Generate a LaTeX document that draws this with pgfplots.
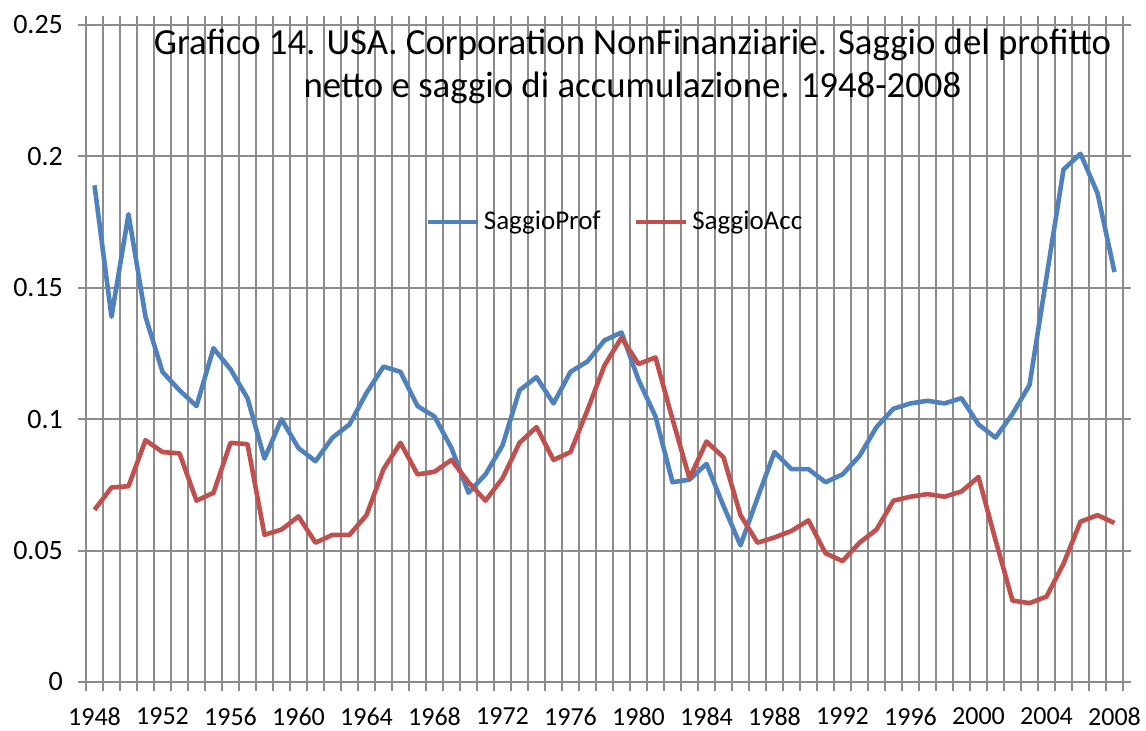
\documentclass[border=0pt]{standalone}
\usepackage{pgfplots}
\usepackage{fontspec}
\setmainfont{Carlito}
\pgfplotsset{compat=1.18}
\definecolor{ProfBlue}{HTML}{4F81BD}
\definecolor{AccRed}{HTML}{C0504D}
\definecolor{GridGray}{HTML}{8C8C8C}

\pgfplotstableread{
year prof acc
1948 0.189 0.0655
1949 0.139 0.074
1950 0.178 0.0745
1951 0.139 0.092
1952 0.118 0.0875
1953 0.111 0.087
1954 0.105 0.069
1955 0.127 0.072
1956 0.119 0.091
1957 0.108 0.0905
1958 0.085 0.056
1959 0.100 0.058
1960 0.089 0.063
1961 0.084 0.053
1962 0.093 0.056
1963 0.098 0.056
1964 0.110 0.0635
1965 0.120 0.081
1966 0.118 0.091
1967 0.105 0.079
1968 0.101 0.080
1969 0.089 0.0845
1970 0.072 0.076
1971 0.079 0.069
1972 0.090 0.0775
1973 0.111 0.091
1974 0.116 0.097
1975 0.106 0.0845
1976 0.118 0.0875
1977 0.122 0.1035
1978 0.130 0.1205
1979 0.133 0.131
1980 0.115 0.121
1981 0.101 0.1235
1982 0.076 0.100
1983 0.077 0.0775
1984 0.083 0.0915
1985 0.067 0.0855
1986 0.052 0.0635
1987 0.070 0.053
1988 0.0875 0.055
1989 0.081 0.0575
1990 0.081 0.0615
1991 0.076 0.049
1992 0.079 0.046
1993 0.086 0.053
1994 0.097 0.058
1995 0.104 0.069
1996 0.106 0.0705
1997 0.107 0.0715
1998 0.106 0.0705
1999 0.108 0.0725
2000 0.098 0.078
2001 0.093 0.054
2002 0.102 0.031
2003 0.113 0.030
2004 0.154 0.0325
2005 0.195 0.045
2006 0.201 0.061
2007 0.186 0.0635
2008 0.156 0.0605
}\saggi

\begin{document}
\begin{tikzpicture}
\begin{axis}[
  at={(0,0)}, anchor=south west,
  scale only axis,
  width=518.5pt, height=328.5pt,
  xmin=1947.5, xmax=2008.5,
  ymin=0, ymax=0.25,
  axis line style={GridGray, line width=1pt},
  xtick={1948,1952,...,2008},
  minor xtick={1947.5,1948.5,...,2008.5},
  major x tick style={draw=none},
  minor x tick style={GridGray, line width=1pt},
  minor tick length=4.5pt,
  xminorgrids=true,
  minor grid style={GridGray, line width=1pt},
  ytick={0,0.05,...,0.25},
  ymajorgrids=true,
  major grid style={GridGray, line width=1pt},
  major y tick style={GridGray, line width=1pt},
  major tick length=4pt,
  tick align=outside,
  scaled y ticks=false,
  /pgf/number format/assume math mode=true,
  /pgf/number format/1000 sep={},
  yticklabel style={/pgf/number format/fixed, /pgf/number format/precision=2,
    xshift=-4pt, font=\fontsize{14}{16}\selectfont},
  xticklabel style={yshift=-5.5pt, font=\fontsize{13}{15}\selectfont},
  ticklabel style={text=black},
  legend style={draw=none, fill=none, at={(0.321,0.70)}, anchor=west,
    font=\fontsize{13.5}{15}\selectfont,
    /tikz/every even column/.append style={column sep=14.5pt}},
  legend columns=2,
  legend image code/.code={\draw[#1] (0pt,0pt) -- (25pt,0pt);},
]
\addplot[ProfBlue, line width=2.3pt, line join=round] table[x=year, y=prof] {\saggi};
\addlegendentry{SaggioProf}
\addplot[AccRed, line width=2.3pt, line join=round] table[x=year, y=acc] {\saggi};
\addlegendentry{SaggioAcc}
\node[anchor=north, align=center, font=\fontsize{18.4}{21.5}\selectfont, inner sep=0pt]
  at (rel axis cs:0.527,0.995)
  {Grafico 14. USA. Corporation NonFinanziarie. Saggio del profitto\\netto e saggio di accumulazione. 1948-2008};
\end{axis}
\pgfresetboundingbox
\path[use as bounding box] (-43pt,-24.5pt) rectangle (530pt,341pt);
\end{tikzpicture}
\end{document}
